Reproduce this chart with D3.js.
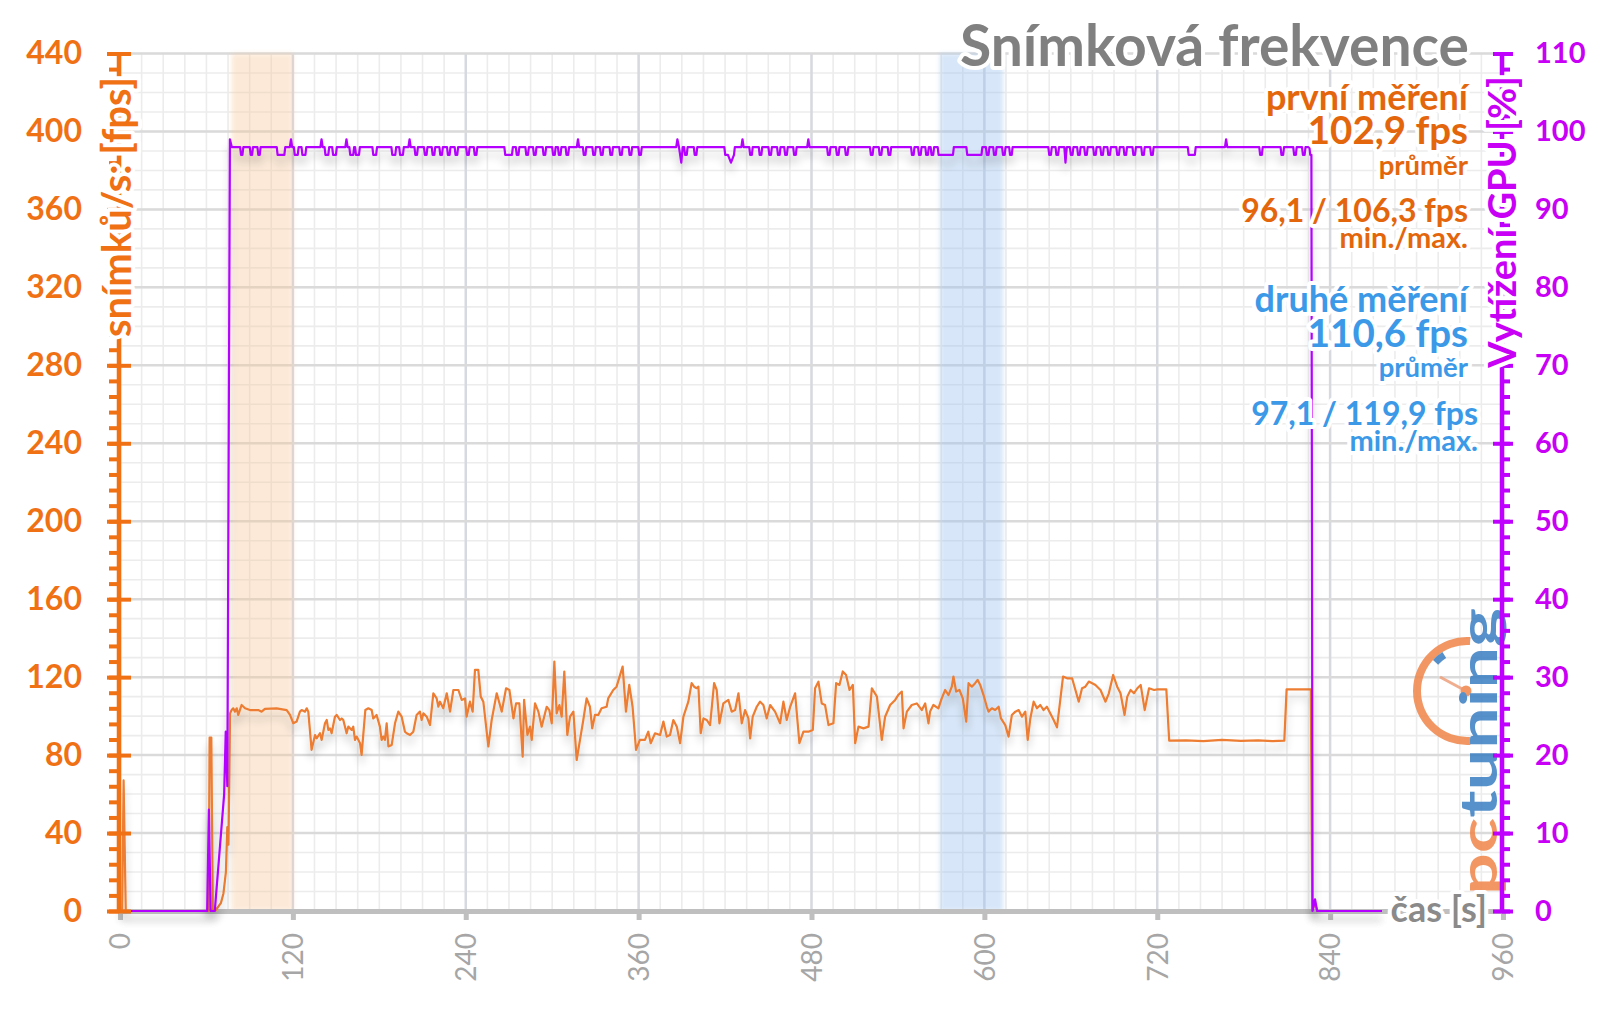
<!DOCTYPE html>
<html>
<head>
<meta charset="utf-8">
<script src="https://cdn.jsdelivr.net/npm/d3@7"></script>
<style>
body { margin: 0; background: #fff; }
text { font-family: Lato, "Open Sans", sans-serif; }
.halo { paint-order: stroke; stroke: #fff; stroke-width: 8px; stroke-linejoin: round; }
</style>
</head>
<body>
<script>
var w = 1600;
var h = 1009;

// ticks
var timeTicks = [0, 120, 240, 360, 480, 600, 720, 840, 960];
var fpsTicks = [0, 40, 80, 120, 160, 200, 240, 280, 320, 360, 400, 440];
var gpuTicks = [0, 10, 20, 30, 40, 50, 60, 70, 80, 90, 100, 110];

// measured intervals [s]
var firstRun = [77.5, 120];
var secondRun = [569, 613];

var chartTitle = "Snímková frekvence";
var firstLabels = ["první měření", "102,9 fps", "průměr", "96,1 / 106,3 fps", "min./max."];
var secondLabels = ["druhé měření", "110,6 fps", "průměr", "97,1 / 119,9 fps", "min./max."];

// [time s, fps]
var fpsData = [
[0,0],[1.5,0],[2.5,67],[4,0],[61.5,0],[62.2,89],[63.4,89],[64.4,0],[66,0],[70,4],[71.8,9],[73.5,20],[74.5,43],[75.3,34],[76.4,101.5],
[77.5,103.1],[78.6,104],[79.8,102.3],[81,104],[82.1,100.6],[84.4,105.7],[86.8,104],[90.2,103.1],[96,103.1],[98.3,102.3],[100.6,103.7],[108.7,104],[115.7,103.1],[118,100.6],[120.3,96.3],[122.6,97.2],[124.9,102.3],[126.1,103.1],[128.4,102.3],[129.6,104],[130.7,102.3],[133,82.7],[135.4,90.3],[136.5,88.6],[138.8,91.2],[140,87.8],[142.3,96.3],[143.5,98],[144.6,92.9],[145.8,93.7],[146.9,91.2],[149.2,99.7],[150.4,100.6],[152.7,98],[153.9,98.8],[155,98],[157.3,91.2],[158.5,94.6],[160.8,92.9],[161.9,94.6],[163.1,87.8],[164.3,89.5],[166.6,86.1],[167.7,80.1],[170.3,103.1],[172.4,104],[174.7,103.1],[175.8,98.8],[178.1,100.6],[180.4,94.6],[181.6,87.8],[182.8,89.5],[183.9,87.8],[185.1,96.3],[186.3,84.4],[188.6,85.2],[190.9,96.3],[193.2,102.3],[195.5,99.7],[197.8,92],[199,91.2],[201.3,90.3],[203.6,92],[205.9,100.6],[208.2,102.3],[209.4,98],[210.6,101.4],[212.9,99.7],[215.2,95.4],[217.5,111.7],[219.8,109.1],[221,104.8],[222.1,107.4],[224.4,104],[226.8,111.7],[229.1,102.3],
[231.4,113.4],[234.9,113.4],[237.2,108.3],[239.5,109.1],[240.6,99.7],[242.9,107.4],[244.8,102.3],[246.4,123.7],[248.7,123.7],[250.4,110],[252.2,107.4],[255.7,84.4],[258,98],[261.5,111.7],[265,102.3],[268,114.3],[270.3,113.4],[273.1,98.8],[274.9,106.5],[277.2,106.5],[279.5,79.2],[280.5,108.3],[282.8,90.3],[284.6,94.6],[285.8,87.8],[288.1,106.5],[290.4,102.3],[292.7,94.6],[296.2,104.8],[298,103.1],[299.7,96.3],[301.5,128],[303.1,101.4],[305,105.7],[306.6,99.7],[308.4,122.9],[310.5,90.3],[312.4,99.7],[314.7,102.3],[317,77.5],[319.3,87.8],[321.6,98],[323.9,109.1],[326.2,104.8],[327.8,93.7],[329.7,100.6],[332,100.6],[334.3,104],[337.8,104.8],[338.9,109.1],[342.4,113.4],[344.7,115.1],[348.9,125.4],[351.2,102.3],[353.5,116],[355.8,104.8],[358.2,82.7],[360.9,87.8],[364.4,87.8],[366.7,92],[368.4,86.1],[371.4,91.2],[374.9,90.3],[377.2,97.2],[379.5,89.5],[381.8,90.3],[384.1,98],[386.5,94.6],[388.8,86.1],[391.1,99.7],[394.5,107.4],
[396.8,116.9],[398.5,115.1],[400.3,114.3],[401.5,115.1],[403.1,91.2],[405,98.8],[407.3,98],[409.6,95.4],[412.4,116.9],[414.2,113.4],[416.1,96.3],[418.8,106.5],[422.3,108.3],[424.6,102.3],[427,103.1],[429.3,111.7],[431.6,96.3],[433.9,103.1],[436.2,98.8],[437.4,88.6],[439.2,99.7],[442,104.8],[444.3,107.4],[446.6,105.7],[448.9,98.8],[451.3,105.7],[454.7,102.3],[458.2,96.3],[460.5,107.4],[462.8,98],[465.2,104.8],[468.6,111.7],[471.6,86.1],[474.4,92],[477.9,92],[480.9,92.9],[482.5,114.3],[484.8,117.7],[487.1,106.5],[489.4,105.7],[491.8,95.4],[495.2,96.3],[497.1,116.9],[499.4,116],[501.7,122.9],[504,121.1],[506.4,113.4],[508.7,116],[510.3,86.1],[512.6,94.6],[516.1,93.7],[519.6,94.6],[521.9,114.3],[525.4,110],[528.8,87.8],[531.1,99.7],[534.6,105.7],[538.1,108.3],[540.4,111],[542.7,112.6],[543.9,93.7],[546.2,102.3],[549.6,105.7],[553.1,106.5],[556.6,103.1],[558.9,106.5],[561.2,96.3],
[562.3,102.3],[564.6,105.7],[568.1,104],[570.4,109.1],[572.8,113.4],[575.1,110.8],[577.4,115.1],[578.5,120.3],[580.4,112.6],[582.7,113.4],[585,109.1],[587.4,97.2],[589,116.9],[591.3,115.1],[593.6,116.9],[595.3,118.6],[597.1,116],[599.4,110.8],[601.7,104.8],[602.9,102.3],[605.2,104],[607.5,103.1],[609.9,104.8],[611.5,98.8],[614.5,95.4],[616.8,89.5],[619.1,100.6],[621.5,102.3],[623.8,103.1],[626.1,99.7],[628.4,102.3],[630.1,87.8],[631.9,98.8],[634.2,107.4],[636.5,104],[638.8,105.7],[641.1,103.1],[643.4,104.8],[645.8,101.4],[648.1,98],[650.4,94.2],[652.7,108.3],[654.6,120.3],[657.4,119.4],[660.9,119.4],[663.2,113.4],[665.5,107.4],[667.8,114.3],[670.1,115.1],[672.5,117.7],[674.8,116.9],[677.1,116],[680.6,113.4],[684.1,107.4],[686.4,111.7],[689.4,121.1],[692.2,115.1],[694.5,111.7],[697.3,100.6],[699.2,110],[701.5,113.4],[703.8,111.7],[706.2,114.3],[708.5,116],[711.3,103.1],[714.3,114.3],[717.8,113.4],[720.1,113.7],[726.3,113.7],[728.3,87.4],[740,87.6],[752,87.2],[765,87.8],[778,87.3],[790,87.6],[800,87.2],[808.2,87.4],[809.8,113.7],[826.6,113.7],[827.6,0],[829.5,4],[831,0],[876,0]
];

// [time s, GPU load %]
var gpuData = [
[0,0],[60.5,0],[61.7,13],[62.9,0],[65.8,0],[72.3,15],[73.4,23],[74.5,16],[76.3,99],[77.6,98],
[83.4,98],[84,97],[85,97],[85.6,98],[90.1,98],[90.7,97],[91.7,97],[92.3,98],[95.4,98],[96,97],[97,97],[97.6,98],
[108.8,98],[109.4,97],[114.1,97],[114.7,98],[117.9,98],[118.7,99],[119.5,98],[120.7,98],[121.3,97],[123.4,97],[124,98],
[126,98],[126.6,97],[128.7,97],[129.3,98],[139.1,98],[139.9,99],[140.7,98],[142,98],[142.6,97],[144.6,97],[145.2,98],
[147.3,98],[147.9,97],[149.9,97],[150.5,98],[156.4,98],[157.2,99],[158,98],[159.2,98],[159.8,97],[161.9,97],[162.5,98],
[163.2,98],[163.8,97],[165.9,97],[166.5,98],[175.2,98],[175.8,97],[177.8,97],[178.4,98],[188.4,98],[189,97],[191.1,97],[191.7,98],
[193.8,98],[194.4,97],[196.4,97],[197,98],[200.2,98],[201,99],[201.8,98],[204.4,98],[205,97],[206.2,97],[206.8,98],
[211,98],[211.6,97],[212.8,97],[213.4,98],[216.4,98],[217,97],[218.2,97],[218.8,98],[221.7,98],[222.3,97],[223.5,97],[224.1,98],
[227,98],[227.6,97],[228.8,97],[229.4,98],[232.3,98],[232.9,97],[234.1,97],[234.7,98],[240.3,98],[240.9,97],[242.1,97],[242.7,98],
[245.6,98],[246.2,97],[247.4,97],[248,98],[266.8,98],[267.4,97],[272.1,97],[272.7,98],[274.8,98],[275.4,97],[276.6,97],[277.2,98],
[281.4,98],[282,97],[283.2,97],[283.8,98],[286.7,98],[287.3,97],[288.5,97],[289.1,98],[293.4,98],[294,97],[295.2,97],[295.8,98],
[300,98],[300.6,97],[301.8,97],[302.4,98],[304,98],[304.6,97],[305.8,97],[306.4,98],[309.3,98],[309.9,97],[311.1,97],[311.7,98],
[317.1,98],[317.9,99],[318.7,98],[321.3,98],[321.9,97],[323.1,97],[323.7,98],[327.9,98],[328.5,97],[329.7,97],[330.3,98],
[333.2,98],[333.8,97],[335,97],[335.6,98],[339.8,98],[340.4,97],[341.6,97],[342.2,98],[346.5,98],[347.1,97],[348.3,97],[348.9,98],
[353.1,98],[353.7,97],[354.9,97],[355.5,98],[359.8,98],[360.4,97],[361.6,97],[362.2,98],
[386.1,98],[386.9,99],[388,98],[389.6,96],[390.6,98],[391.6,98],[392.2,97],[393.4,97],[394,98],[398.3,98],[398.9,97],[400.1,97],[400.7,98],
[419.5,98],[420.1,97],[422,97],[424.1,96],[426.2,97],[426.8,98],[431.3,98],[432.1,99],[432.9,98],
[436.8,98],[437.4,97],[438.6,97],[439.2,98],[443.4,98],[444,97],[445.2,97],[445.8,98],[450.1,98],[450.7,97],[451.9,97],[452.5,98],
[456.1,98],[456.7,97],[457.9,97],[458.5,98],[461.1,98],[461.7,97],[462.9,97],[463.5,98],[467.3,98],[467.9,97],[469.1,97],[469.7,98],
[477,98],[477.8,99],[478.6,98],[490.8,98],[491.4,97],[492.6,97],[493.2,98],[497,98],[497.6,97],[498.8,97],[499.4,98],
[503.2,98],[503.8,97],[505,97],[505.6,98],[520.6,98],[521.2,97],[522.4,97],[523,98],[526.7,98],[527.3,97],[528.5,97],[529.1,98],
[532.9,98],[533.5,97],[534.7,97],[535.3,98],[549.1,98],[549.7,97],[550.9,97],[551.5,98],[554,98],[554.6,97],[555.8,97],[556.4,98],
[559,98],[559.6,97],[560.8,97],[561.4,98],[562.7,98],[563.3,97],[564.5,97],[565.1,98],[567.6,98],[568.2,97],[578.2,97],[578.8,98],
[587.5,98],[588.1,97],[598,97],[598.6,98],[601.1,98],[601.7,97],[602.9,97],[603.5,98],[606.1,98],[606.7,97],[607.9,97],[608.5,98],
[612.3,98],[612.9,97],[614.1,97],[614.7,98],[617.2,98],[617.8,97],[619,97],[619.6,98],
[644.4,98],[645,97],[646.2,97],[646.8,98],[649.4,98],[650,97],[651.2,97],[651.8,98],[655.5,98],[656.3,96],[657.2,98],
[659.4,98],[660,97],[661.2,97],[661.8,98],[664.4,98],[665,97],[666.2,97],[666.8,98],[669.3,98],[669.9,97],[671.1,97],[671.7,98],
[675.5,98],[676.1,97],[677.3,97],[677.9,98],[680.5,98],[681.1,97],[682.3,97],[682.9,98],[685.4,98],[686,97],[687.2,97],[687.8,98],
[691.6,98],[692.2,97],[693.4,97],[694,98],[696.6,98],[697.2,97],[698.4,97],[699,98],[702.8,98],[703.4,97],[704.6,97],[705.2,98],
[708.9,98],[709.5,97],[710.7,97],[711.3,98],[715.1,98],[715.7,97],[716.9,97],[717.5,98],
[741.2,98],[741.8,97],[746.1,97],[746.7,98],[767,98],[767.8,99],[768.6,98],[790.8,98],[791.4,97],[792.6,97],[793.2,98],
[805.6,98],[806.2,97],[807.4,97],[808,98],[814.4,98],[815,97],[816.2,97],[816.8,98],[820.5,98],[821.1,97],[822.3,97],[822.9,98],
[825.6,98],[826.2,97],[827,97],[827.8,0],[829.5,1.5],[831,0],[876,0]
];

var orange = "#f07014";
var noteOrange = "#e4660c";
var noteBlue = "#3b99e8";
var purple = "#bf00ff";

var svg = d3.select("body")
    .append("svg")
    .attr("width", w)
    .attr("height", h);

var xScale = d3.scaleLinear().domain([0, 960]).range([120, 1503]);
var yFps = d3.scaleLinear().domain([0, 440]).range([911, 53.5]);
var yGpu = d3.scaleLinear().domain([0, 110]).range([911, 53.5]);

var defs = svg.append("defs");
var sh = defs.append("filter").attr("id", "shadow")
    .attr("filterUnits", "userSpaceOnUse")
    .attr("x", 0).attr("y", 0).attr("width", w).attr("height", h);
sh.append("feGaussianBlur").attr("in", "SourceAlpha").attr("stdDeviation", 4).attr("result", "b");
sh.append("feOffset").attr("in", "b").attr("dy", 8).attr("result", "o");
sh.append("feComponentTransfer").attr("in", "o").attr("result", "s")
    .append("feFuncA").attr("type", "linear").attr("slope", 0.22);
var mg = sh.append("feMerge");
mg.append("feMergeNode").attr("in", "s");
mg.append("feMergeNode").attr("in", "SourceGraphic");
defs.append("filter").attr("id", "soft")
    .append("feGaussianBlur").attr("stdDeviation", 2);

//grid
var grid = svg.append("g");
grid.selectAll(".vmin").data(d3.range(0, 961, 15)).enter().append("line")
    .attr("x1", d => xScale(d)).attr("x2", d => xScale(d))
    .attr("y1", yFps(440)).attr("y2", yFps(0))
    .attr("stroke", "#ececec").attr("stroke-width", 1.6);
grid.selectAll(".hmin").data(d3.range(0, 441, 10)).enter().append("line")
    .attr("x1", xScale(0)).attr("x2", xScale(960))
    .attr("y1", d => yFps(d)).attr("y2", d => yFps(d))
    .attr("stroke", "#ececec").attr("stroke-width", 1.6);
grid.selectAll(".vmaj").data(timeTicks).enter().append("line")
    .attr("x1", d => xScale(d)).attr("x2", d => xScale(d))
    .attr("y1", yFps(440)).attr("y2", yFps(0))
    .attr("stroke", "#d6d9df").attr("stroke-width", 2.5);
grid.selectAll(".hmaj").data(fpsTicks).enter().append("line")
    .attr("x1", xScale(0)).attr("x2", xScale(960))
    .attr("y1", d => yFps(d)).attr("y2", d => yFps(d))
    .attr("stroke", "#dadada").attr("stroke-width", 2.5);

//bands
svg.append("rect")
    .attr("x", xScale(firstRun[0])).attr("width", xScale(firstRun[1]) - xScale(firstRun[0]))
    .attr("y", yFps(440)).attr("height", yFps(0) - yFps(440))
    .attr("fill", "#f9c89b").attr("opacity", 0.38).attr("filter", "url(#soft)");
svg.append("rect")
    .attr("x", xScale(secondRun[0])).attr("width", xScale(secondRun[1]) - xScale(secondRun[0]))
    .attr("y", yFps(440)).attr("height", yFps(0) - yFps(440))
    .attr("fill", "#9cc3f0").attr("opacity", 0.4).attr("filter", "url(#soft)");

//x axis
var xAxis = svg.append("g")
    .attr("transform", "translate(0," + yFps(0) + ")")
    .call(d3.axisBottom(xScale).tickValues(timeTicks).tickSize(9).tickSizeOuter(0));
xAxis.select(".domain").attr("stroke", "#bfbfbf").attr("stroke-width", 5);
xAxis.selectAll(".tick line").attr("stroke", "#bfbfbf").attr("stroke-width", 5);
xAxis.selectAll(".tick text")
    .attr("transform", "rotate(-90)")
    .attr("x", -22).attr("y", 0).attr("dy", "0.35em")
    .style("text-anchor", "end")
    .attr("fill", "#a6a6a6")
    .style("font-size", "28px");

//logo
var logo = svg.append("g").attr("opacity", 0.85);
logo.append("path")
    .attr("transform", "translate(1467,691)")
    .attr("d", d3.arc()({innerRadius: 46, outerRadius: 54, startAngle: Math.PI * 0.98, endAngle: Math.PI * 2.02}))
    .attr("fill", "#f0864a");
logo.append("path")
    .attr("transform", "translate(1467,691)")
    .attr("d", d3.arc()({innerRadius: 39, outerRadius: 46, startAngle: 5.45, endAngle: 5.72}))
    .attr("fill", "#3a7ec2");
logo.append("line")
    .attr("x1", 1440).attr("y1", 677).attr("x2", 1466).attr("y2", 691)
    .attr("stroke", "#eea07c").attr("stroke-width", 3);
logo.append("circle").attr("cx", 1466).attr("cy", 691).attr("r", 5.5).attr("fill", "#f0864a");
var lt = logo.append("text")
    .attr("transform", "translate(1497,895) rotate(-90)")
    .attr("textLength", 287).attr("lengthAdjust", "spacingAndGlyphs")
    .style("font-size", "52px").style("font-weight", "bold");
lt.append("tspan").text("pc").attr("fill", "#f0864a");
lt.append("tspan").text("tuning").attr("fill", "#3a7ec2");

//lines
svg.append("path")
    .datum(fpsData)
    .attr("fill", "none")
    .attr("stroke", "#ed7d31")
    .attr("stroke-width", 2.2)
    .attr("stroke-linejoin", "round")
    .attr("filter", "url(#shadow)")
    .attr("d", d3.line().x(d => xScale(d[0])).y(d => yFps(d[1])));

svg.append("path")
    .datum(gpuData)
    .attr("fill", "none")
    .attr("stroke", "#b400ff")
    .attr("stroke-width", 2.2)
    .attr("stroke-linejoin", "round")
    .attr("filter", "url(#shadow)")
    .attr("d", d3.line().x(d => xScale(d[0])).y(d => yGpu(d[1])));

//left axis
var lx = 119;
var fpsMinor = d3.range(0, 441, 8);
var gl = svg.append("g").attr("transform", "translate(" + lx + ",0)");
gl.append("line").attr("y1", yFps(440)).attr("y2", yFps(0) + 2)
    .attr("stroke", orange).attr("stroke-width", 4.5);
gl.append("g").call(d3.axisLeft(yFps).tickValues(fpsMinor).tickSize(10).tickFormat(""));
gl.append("g").call(d3.axisRight(yFps).tickValues(fpsTicks).tickSize(12).tickFormat(""));
gl.append("g").call(d3.axisLeft(yFps).tickValues(fpsTicks).tickSize(12).tickPadding(25));
gl.selectAll(".domain").remove();
gl.selectAll(".tick line").attr("stroke", orange).attr("stroke-width", 4);
gl.selectAll(".tick text").attr("fill", orange)
    .style("font-size", "32px").style("font-weight", "bold");

//right axis
var rx = 1502;
var gpuMinor = d3.range(0, 111, 2);
var gr = svg.append("g").attr("transform", "translate(" + rx + ",0)");
gr.append("line").attr("y1", yGpu(110)).attr("y2", yGpu(0) + 2)
    .attr("stroke", purple).attr("stroke-width", 4.5);
gr.append("g").call(d3.axisRight(yGpu).tickValues(gpuMinor).tickSize(8).tickFormat(""));
gr.append("g").call(d3.axisLeft(yGpu).tickValues(gpuTicks).tickSize(9).tickFormat(""));
gr.append("g").call(d3.axisRight(yGpu).tickValues(gpuTicks).tickSize(11).tickPadding(22));
gr.selectAll(".domain").remove();
gr.selectAll(".tick line").attr("stroke", purple).attr("stroke-width", 4);
gr.selectAll(".tick text").attr("fill", "#c800f5")
    .style("font-size", "29px").style("font-weight", "bold");

//axis titles
svg.append("text")
    .attr("class", "halo")
    .attr("transform", "translate(131,77) rotate(-90)")
    .attr("text-anchor", "end")
    .attr("fill", orange)
    .style("font-size", "40px").style("font-weight", "bold")
    .text("snímků/s: [fps]");

svg.append("text")
    .attr("class", "halo")
    .attr("transform", "translate(1516,76) rotate(-90)")
    .attr("text-anchor", "end")
    .attr("fill", "#c800f5")
    .style("font-size", "38px").style("font-weight", "bold")
    .text("Vytížení GPU [%]");

svg.append("text")
    .attr("class", "halo")
    .attr("x", 1487).attr("y", 922)
    .attr("text-anchor", "end")
    .attr("fill", "#8a8a8a")
    .style("font-size", "36px").style("font-weight", "bold")
    .text("čas [s]");

//title & notes
title_g = svg.append("g")
    .attr("text-anchor", "end")
    .style("font-weight", "bold");

title_g.append("text")
    .attr("class", "halo")
    .attr("x", 1469).attr("y", 66)
    .attr("fill", "#808080")
    .style("font-size", "57px")
    .text(chartTitle);

var noteSizes = [36, 38.5, 27.5, 32, 29];
var firstY = [110, 144, 175, 222, 248];
var secondY = [312, 347, 377, 425, 451];
var secondX = [1468, 1468, 1468, 1478, 1478];

title_g.selectAll(".n1").data(firstLabels).enter().append("text")
    .attr("class", "halo")
    .attr("x", 1468)
    .attr("y", (d, i) => firstY[i])
    .attr("fill", noteOrange)
    .style("font-size", (d, i) => noteSizes[i] + "px")
    .text(d => d);

title_g.selectAll(".n2").data(secondLabels).enter().append("text")
    .attr("class", "halo")
    .attr("x", (d, i) => secondX[i])
    .attr("y", (d, i) => secondY[i])
    .attr("fill", noteBlue)
    .style("font-size", (d, i) => noteSizes[i] + "px")
    .text(d => d);
</script>
</body>
</html>
